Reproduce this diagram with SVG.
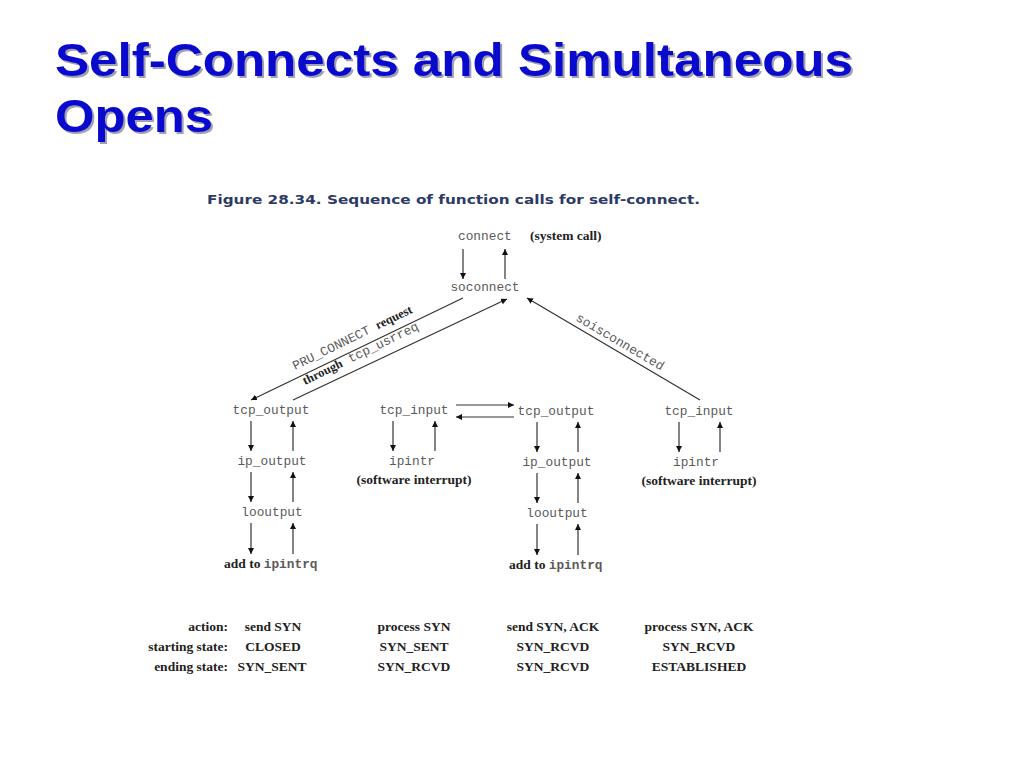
<svg xmlns="http://www.w3.org/2000/svg" width="1024" height="768" viewBox="0 0 1024 768">
<defs>
<marker id="ah" viewBox="0 0 10 10" refX="10" refY="5" markerWidth="6" markerHeight="6" markerUnits="userSpaceOnUse" orient="auto">
<path d="M0,0 L10,5 L0,10 z" fill="#111"/>
</marker>
</defs>
<style>
.title{font-family:"Liberation Sans",Arial,sans-serif;font-weight:bold;font-size:47px;fill:#0a0acf}
.shadow{font-family:"Liberation Sans",Arial,sans-serif;font-weight:bold;font-size:47px;fill:#a0a0b0}
.cap{font-family:"DejaVu Sans",Verdana,sans-serif;font-weight:bold;font-size:13px;fill:#2e3a66}
.mono{font-family:"Liberation Mono","Courier New",monospace;font-size:12.8px;fill:#5a5a5a}
.ser{font-family:"Liberation Serif","Times New Roman",serif;font-weight:bold;font-size:13.5px;fill:#222}
.c{text-anchor:middle}
.r{text-anchor:end}
.ln{stroke:#333;stroke-width:1.2;fill:none;marker-end:url(#ah)}
</style>
<rect width="1024" height="768" fill="#fff"/>
<g id="title">
<text class="shadow" x="57" y="78" textLength="798" lengthAdjust="spacingAndGlyphs">Self-Connects and Simultaneous</text>
<text class="shadow" x="57" y="134" textLength="158" lengthAdjust="spacingAndGlyphs">Opens</text>
<text class="title" x="55" y="76" textLength="798" lengthAdjust="spacingAndGlyphs">Self-Connects and Simultaneous</text>
<text class="title" x="55" y="132" textLength="158" lengthAdjust="spacingAndGlyphs">Opens</text>
</g>
<text class="cap" x="207" y="204" textLength="493" lengthAdjust="spacingAndGlyphs">Figure 28.34. Sequence of function calls for self-connect.</text>

<g id="connectors">
<line class="ln" x1="463" y1="249" x2="463" y2="279"/>
<line class="ln" x1="505" y1="279" x2="505" y2="249"/>
<line class="ln" x1="463" y1="298" x2="251" y2="400"/>
<line class="ln" x1="293" y1="400" x2="507" y2="299"/>
<line class="ln" x1="700" y1="400" x2="527" y2="298"/>
<line class="ln" x1="456" y1="405" x2="514" y2="405"/>
<line class="ln" x1="514" y1="417" x2="456" y2="417"/>
<line class="ln" x1="251" y1="421" x2="251" y2="451"/>
<line class="ln" x1="293" y1="451" x2="293" y2="421"/>
<line class="ln" x1="251" y1="472" x2="251" y2="502"/>
<line class="ln" x1="293" y1="502" x2="293" y2="472"/>
<line class="ln" x1="251" y1="523" x2="251" y2="554"/>
<line class="ln" x1="293" y1="554" x2="293" y2="523"/>
<line class="ln" x1="393" y1="421" x2="393" y2="451"/>
<line class="ln" x1="435" y1="451" x2="435" y2="421"/>
<line class="ln" x1="537" y1="422" x2="537" y2="452"/>
<line class="ln" x1="578" y1="452" x2="578" y2="422"/>
<line class="ln" x1="537" y1="473" x2="537" y2="503"/>
<line class="ln" x1="578" y1="503" x2="578" y2="473"/>
<line class="ln" x1="537" y1="524" x2="537" y2="555"/>
<line class="ln" x1="578" y1="555" x2="578" y2="524"/>
<line class="ln" x1="679" y1="422" x2="679" y2="452"/>
<line class="ln" x1="720" y1="452" x2="720" y2="422"/>
<text class="mono" transform="translate(295,370) rotate(-26)">PRU_CONNECT <tspan class="ser" style="font-size:12.5px">request</tspan></text>
<text class="mono" transform="translate(305,385) rotate(-26)"><tspan class="ser" style="font-size:12.5px">through</tspan> tcp_usrreq</text>
<text class="mono" transform="translate(575,320) rotate(30.5)">soisconnected</text>
</g>

<g id="n-connect"><text class="mono" x="458" y="240">connect</text><text class="ser" x="530" y="240">(system call)</text></g>
<g id="n-soconnect"><text class="mono c" x="485" y="291">soconnect</text></g>
<g id="n-tcpout1"><text class="mono c" x="271" y="414">tcp_output</text></g>
<g id="n-ipout1"><text class="mono c" x="272" y="465">ip_output</text></g>
<g id="n-loout1"><text class="mono c" x="272" y="516">looutput</text></g>
<g id="n-add1"><text class="ser" x="224" y="568">add to <tspan class="mono">ipintrq</tspan></text></g>
<g id="n-tcpin1"><text class="mono c" x="414" y="414">tcp_input</text></g>
<g id="n-ipintr1"><text class="mono c" x="412" y="465">ipintr</text><text class="ser c" x="414" y="484">(software interrupt)</text></g>
<g id="n-tcpout2"><text class="mono c" x="556" y="415">tcp_output</text></g>
<g id="n-ipout2"><text class="mono c" x="557" y="466">ip_output</text></g>
<g id="n-loout2"><text class="mono c" x="557" y="517">looutput</text></g>
<g id="n-add2"><text class="ser" x="509" y="569">add to <tspan class="mono">ipintrq</tspan></text></g>
<g id="n-tcpin2"><text class="mono c" x="699" y="415">tcp_input</text></g>
<g id="n-ipintr2"><text class="mono c" x="696" y="466">ipintr</text><text class="ser c" x="699" y="485">(software interrupt)</text></g>

<g id="table">
<text class="ser r" x="228" y="631">action:</text>
<text class="ser r" x="228" y="651">starting state:</text>
<text class="ser r" x="228" y="671">ending state:</text>
<text class="ser c" x="273" y="631">send SYN</text>
<text class="ser c" x="273" y="651">CLOSED</text>
<text class="ser c" x="272" y="671">SYN_SENT</text>
<text class="ser c" x="414" y="631">process SYN</text>
<text class="ser c" x="414" y="651">SYN_SENT</text>
<text class="ser c" x="414" y="671">SYN_RCVD</text>
<text class="ser c" x="553" y="631">send SYN, ACK</text>
<text class="ser c" x="553" y="651">SYN_RCVD</text>
<text class="ser c" x="553" y="671">SYN_RCVD</text>
<text class="ser c" x="699" y="631">process SYN, ACK</text>
<text class="ser c" x="699" y="651">SYN_RCVD</text>
<text class="ser c" x="699" y="671">ESTABLISHED</text>
</g>
</svg>
